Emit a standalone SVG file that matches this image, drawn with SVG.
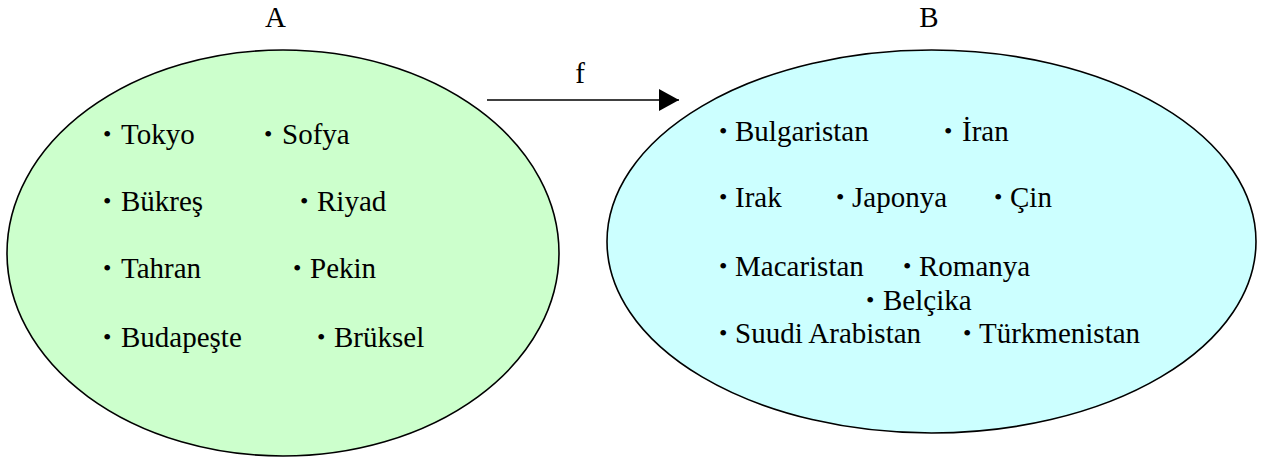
<svg xmlns="http://www.w3.org/2000/svg" width="1269" height="461" viewBox="0 0 1269 461">
  <style>
    text { font-family: "Liberation Serif", "Times New Roman", serif; font-size: 29px; fill: #000; }
    .b { font-size: 24px; }
    .set { stroke: #000; stroke-width: 1.6; }
    .edge { stroke: #000; stroke-width: 1.6; fill: none; }
  </style>
  <defs>
    <marker id="arrowhead" markerUnits="userSpaceOnUse" markerWidth="21" markerHeight="22" refX="20" refY="11" orient="auto">
      <polygon points="0,0 20,11 0,22" fill="#000"/>
    </marker>
  </defs>

  <!-- Set A: capitals -->
  <g id="setA">
    <text x="275.5" y="27" text-anchor="middle">A</text>
    <ellipse class="set" cx="283" cy="253" rx="276" ry="203" fill="#CCFFCC"/>
    <text><tspan class="b" x="103" y="142">•</tspan><tspan x="121" y="144">Tokyo</tspan></text>
    <text><tspan class="b" x="264" y="142">•</tspan><tspan x="282" y="144">Sofya</tspan></text>
    <text><tspan class="b" x="103" y="209">•</tspan><tspan x="121" y="211">Bükreş</tspan></text>
    <text><tspan class="b" x="300" y="209">•</tspan><tspan x="317" y="211">Riyad</tspan></text>
    <text><tspan class="b" x="103" y="276">•</tspan><tspan x="121" y="278">Tahran</tspan></text>
    <text><tspan class="b" x="293" y="276">•</tspan><tspan x="310" y="278">Pekin</tspan></text>
    <text><tspan class="b" x="103" y="345">•</tspan><tspan x="121" y="347">Budapeşte</tspan></text>
    <text><tspan class="b" x="317" y="345">•</tspan><tspan x="334" y="347">Brüksel</tspan></text>
  </g>

  <!-- Set B: countries -->
  <g id="setB">
    <text x="929" y="27" text-anchor="middle">B</text>
    <ellipse class="set" cx="931.5" cy="241.5" rx="324.5" ry="191.5" fill="#CCFFFF"/>
    <text><tspan class="b" x="719" y="139">•</tspan><tspan x="735" y="141">Bulgaristan</tspan></text>
    <text><tspan class="b" x="944" y="139">•</tspan><tspan x="962" y="141">İran</tspan></text>
    <text><tspan class="b" x="719" y="205">•</tspan><tspan x="735" y="207">Irak</tspan></text>
    <text><tspan class="b" x="836" y="205">•</tspan><tspan x="852" y="207">Japonya</tspan></text>
    <text><tspan class="b" x="994" y="205">•</tspan><tspan x="1010" y="207">Çin</tspan></text>
    <text><tspan class="b" x="719" y="274">•</tspan><tspan x="735" y="276">Macaristan</tspan></text>
    <text><tspan class="b" x="903" y="274">•</tspan><tspan x="919" y="276">Romanya</tspan></text>
    <text><tspan class="b" x="866" y="308">•</tspan><tspan x="883" y="310">Belçika</tspan></text>
    <text><tspan class="b" x="719" y="341">•</tspan><tspan x="735" y="343">Suudi Arabistan</tspan></text>
    <text><tspan class="b" x="963" y="341">•</tspan><tspan x="979" y="343">Türkmenistan</tspan></text>
  </g>

  <!-- Mapping f: A → B -->
  <g id="connectors">
    <line class="edge" x1="487" y1="100" x2="679" y2="100" marker-end="url(#arrowhead)"/>
    <text x="580" y="83" text-anchor="middle">f</text>
  </g>
</svg>
